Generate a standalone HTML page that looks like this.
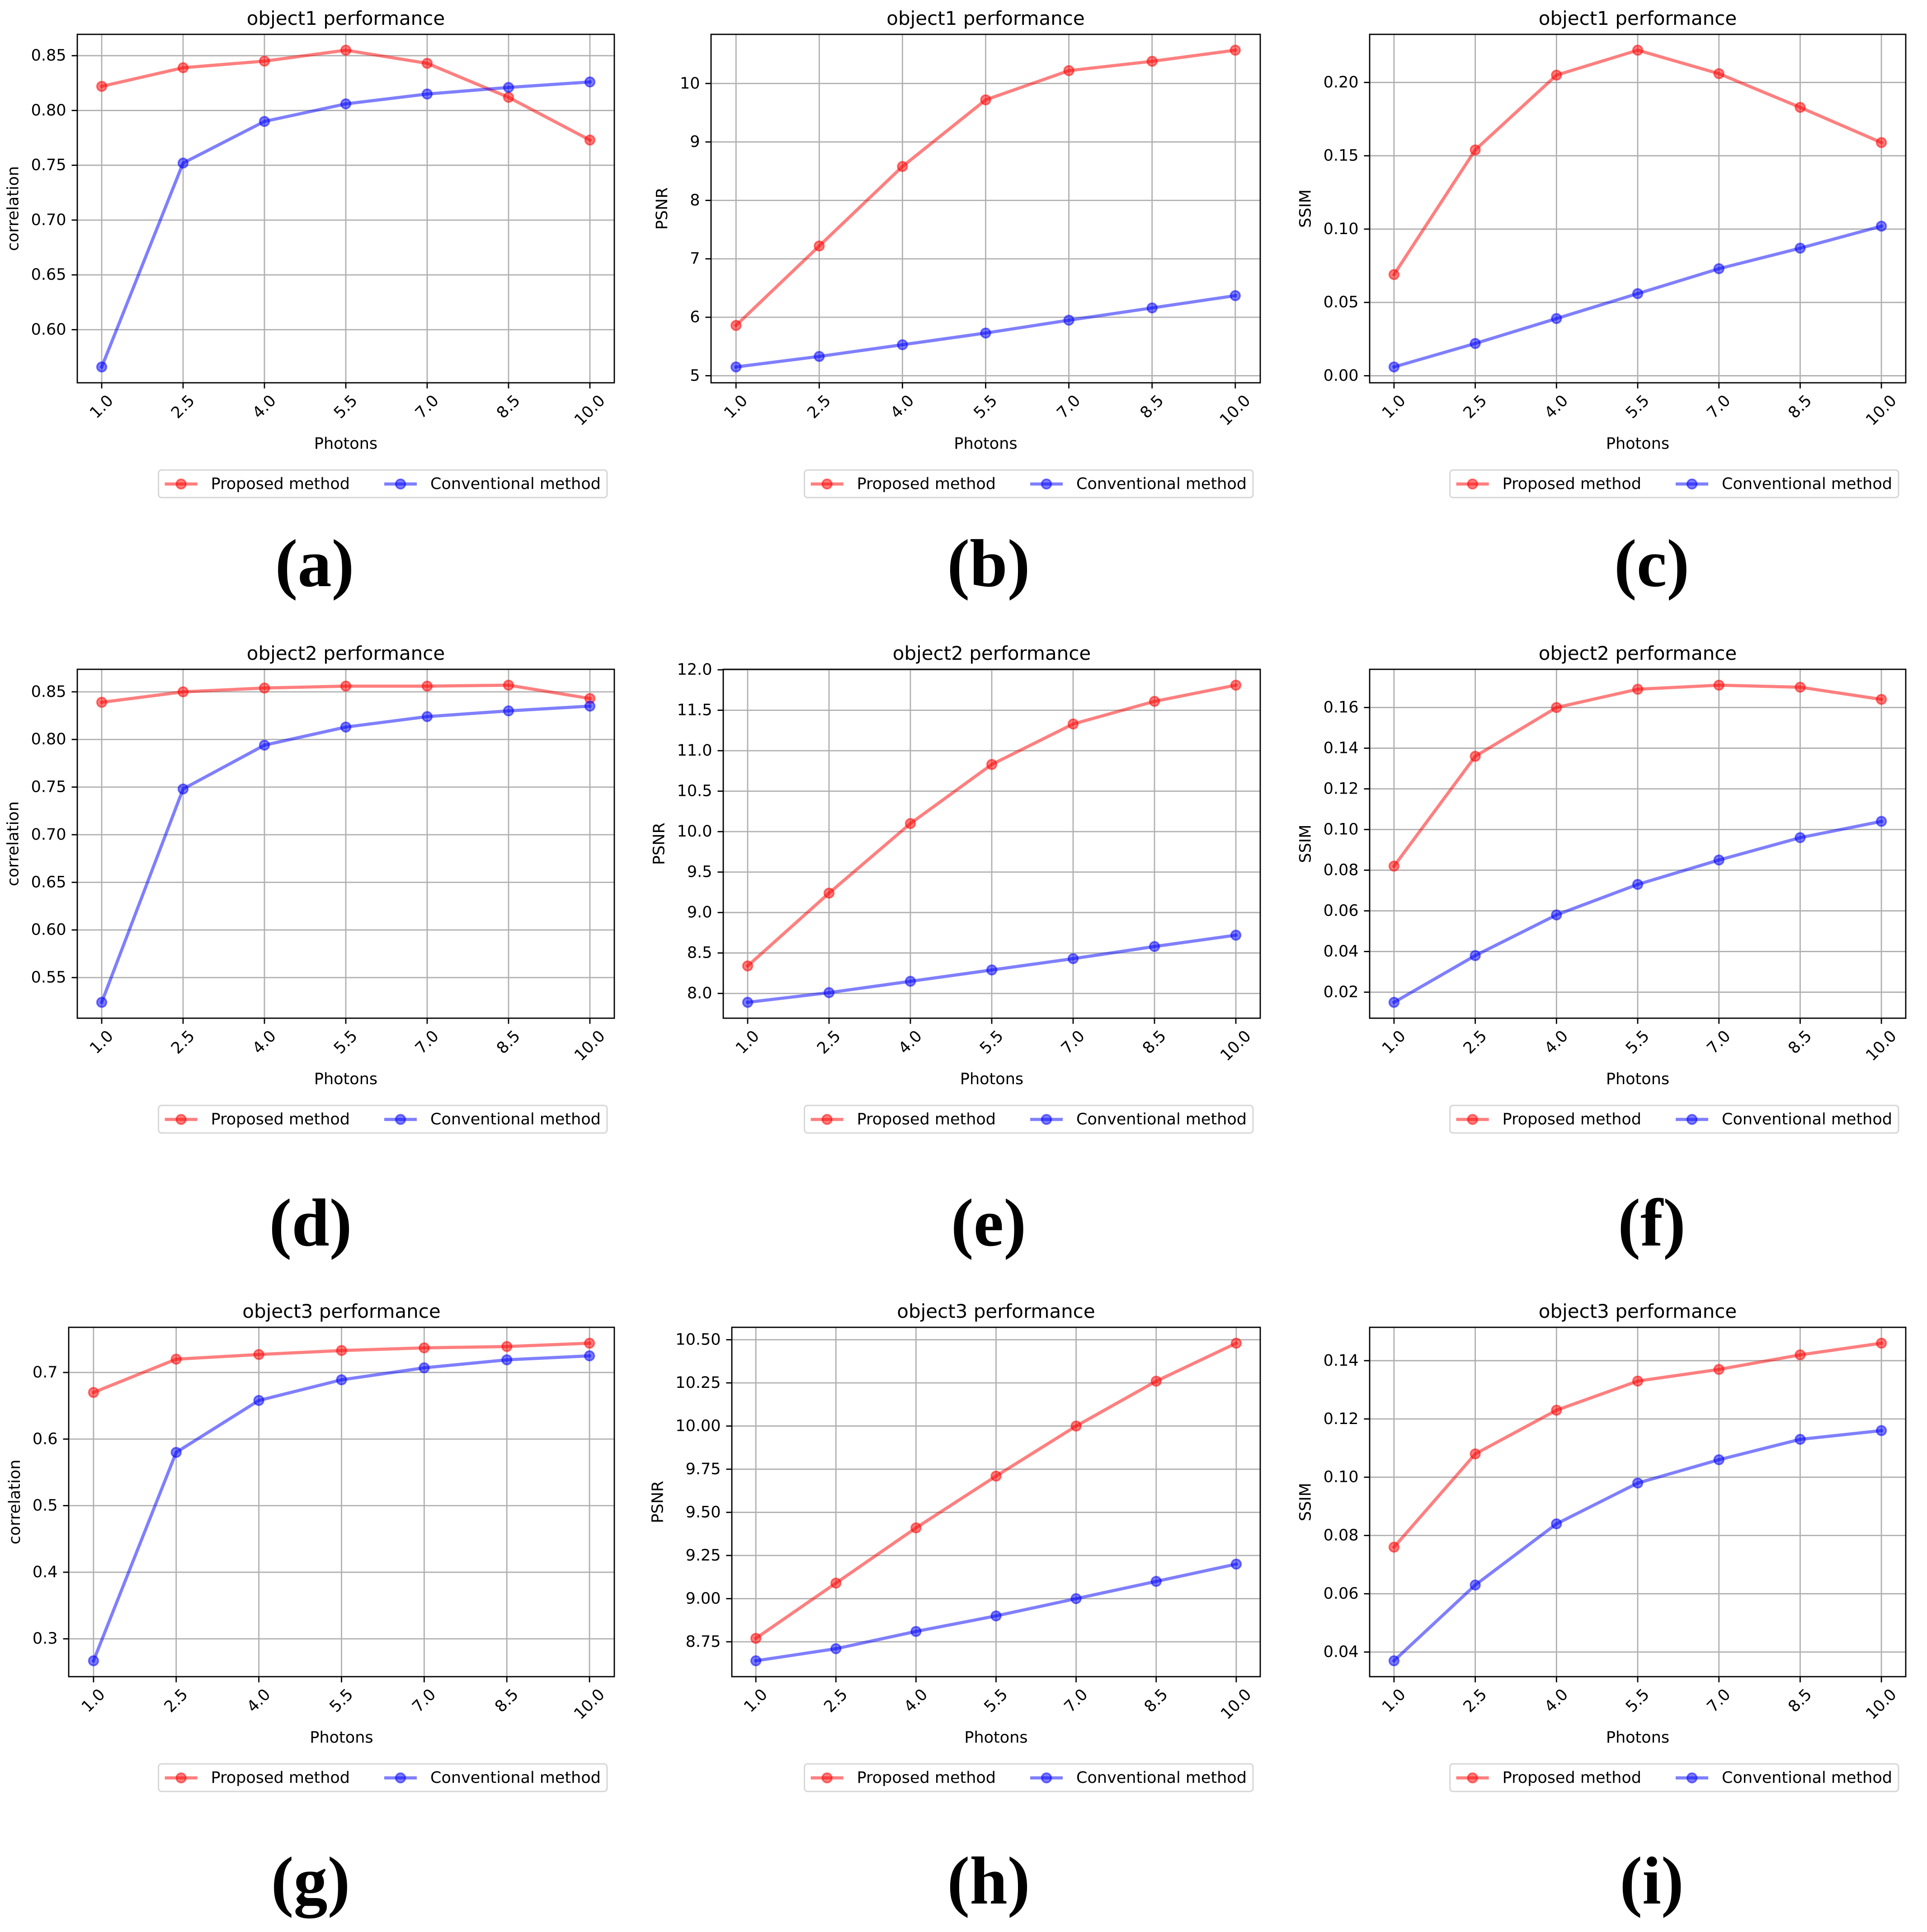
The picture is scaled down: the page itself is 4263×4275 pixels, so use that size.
<!DOCTYPE html>
<html>
<head>
<meta charset="utf-8">
<style>
  html, body { margin: 0; padding: 0; background: #ffffff; }
  svg { display: block; }
</style>
</head>
<body>
<svg id="fig" xmlns="http://www.w3.org/2000/svg" width="4263" height="4275" viewBox="0 0 4263 4275" font-family="'DejaVu Sans', 'Liberation Sans', sans-serif">
  <rect x="0" y="0" width="4263" height="4275" fill="#ffffff"/>
</svg>
<script>
// ---------- shared data ----------
const photons = [1.0, 2.5, 4.0, 5.5, 7.0, 8.5, 10.0];
const photonLabels = ["1.0", "2.5", "4.0", "5.5", "7.0", "8.5", "10.0"];

// panel (a) object1 correlation
const a_proposed = [0.822, 0.839, 0.845, 0.855, 0.843, 0.812, 0.773];
const a_conventional = [0.566, 0.752, 0.790, 0.806, 0.815, 0.821, 0.826];
const a_yticks = [0.60, 0.65, 0.70, 0.75, 0.80, 0.85];
const a_ylabels = ["0.60", "0.65", "0.70", "0.75", "0.80", "0.85"];
// panel (b) object1 PSNR
const b_proposed = [5.86, 7.22, 8.58, 9.72, 10.22, 10.38, 10.57];
const b_conventional = [5.15, 5.33, 5.53, 5.73, 5.95, 6.16, 6.37];
const b_yticks = [5, 6, 7, 8, 9, 10];
const b_ylabels = ["5", "6", "7", "8", "9", "10"];
// panel (c) object1 SSIM
const c_proposed = [0.069, 0.154, 0.205, 0.222, 0.206, 0.183, 0.159];
const c_conventional = [0.006, 0.022, 0.039, 0.056, 0.073, 0.087, 0.102];
const c_yticks = [0.00, 0.05, 0.10, 0.15, 0.20];
const c_ylabels = ["0.00", "0.05", "0.10", "0.15", "0.20"];
// panel (d) object2 correlation
const d_proposed = [0.839, 0.850, 0.854, 0.856, 0.856, 0.857, 0.843];
const d_conventional = [0.524, 0.748, 0.794, 0.813, 0.824, 0.830, 0.835];
const d_yticks = [0.55, 0.60, 0.65, 0.70, 0.75, 0.80, 0.85];
const d_ylabels = ["0.55", "0.60", "0.65", "0.70", "0.75", "0.80", "0.85"];
// panel (e) object2 PSNR
const e_proposed = [8.34, 9.24, 10.10, 10.83, 11.33, 11.61, 11.81];
const e_conventional = [7.89, 8.01, 8.15, 8.29, 8.43, 8.58, 8.72];
const e_yticks = [8.0, 8.5, 9.0, 9.5, 10.0, 10.5, 11.0, 11.5, 12.0];
const e_ylabels = ["8.0", "8.5", "9.0", "9.5", "10.0", "10.5", "11.0", "11.5", "12.0"];
// panel (f) object2 SSIM
const f_proposed = [0.082, 0.136, 0.160, 0.169, 0.171, 0.170, 0.164];
const f_conventional = [0.015, 0.038, 0.058, 0.073, 0.085, 0.096, 0.104];
const f_yticks = [0.02, 0.04, 0.06, 0.08, 0.10, 0.12, 0.14, 0.16];
const f_ylabels = ["0.02", "0.04", "0.06", "0.08", "0.10", "0.12", "0.14", "0.16"];
// panel (g) object3 correlation
const g_proposed = [0.670, 0.720, 0.727, 0.733, 0.737, 0.739, 0.744];
const g_conventional = [0.267, 0.580, 0.658, 0.689, 0.707, 0.719, 0.725];
const g_yticks = [0.3, 0.4, 0.5, 0.6, 0.7];
const g_ylabels = ["0.3", "0.4", "0.5", "0.6", "0.7"];
// panel (h) object3 PSNR
const h_proposed = [8.77, 9.09, 9.41, 9.71, 10.00, 10.26, 10.48];
const h_conventional = [8.64, 8.71, 8.81, 8.90, 9.00, 9.10, 9.20];
const h_yticks = [8.75, 9.00, 9.25, 9.50, 9.75, 10.00, 10.25, 10.50];
const h_ylabels = ["8.75", "9.00", "9.25", "9.50", "9.75", "10.00", "10.25", "10.50"];
// panel (i) object3 SSIM
const i_proposed = [0.076, 0.108, 0.123, 0.133, 0.137, 0.142, 0.146];
const i_conventional = [0.037, 0.063, 0.084, 0.098, 0.106, 0.113, 0.116];
const i_yticks = [0.04, 0.06, 0.08, 0.10, 0.12, 0.14];
const i_ylabels = ["0.04", "0.06", "0.08", "0.10", "0.12", "0.14"];

const svg = document.getElementById('fig');
const NS = 'http://www.w3.org/2000/svg';
function mk(tag, attrs, parent) {
  const e = document.createElementNS(NS, tag);
  for (const k in attrs) e.setAttribute(k, attrs[k]);
  (parent || svg).appendChild(e);
  return e;
}

const panels = [
  {id:'a', title:'object1 performance', ylabel:'correlation', P:a_proposed, C:a_conventional, yt:a_yticks, yl:a_ylabels, L:171, R:1359, T:76, B:847, lx:696, lb:1297},
  {id:'b', title:'object1 performance', ylabel:'PSNR', P:b_proposed, C:b_conventional, yt:b_yticks, yl:b_ylabels, L:1573, R:2788, T:76, B:847, lx:2187, lb:1297},
  {id:'c', title:'object1 performance', ylabel:'SSIM', P:c_proposed, C:c_conventional, yt:c_yticks, yl:c_ylabels, L:3030, R:4216, T:76, B:847, lx:3654, lb:1297},
  {id:'d', title:'object2 performance', ylabel:'correlation', P:d_proposed, C:d_conventional, yt:d_yticks, yl:d_ylabels, L:171, R:1359, T:1481, B:2253, lx:687, lb:2756},
  {id:'e', title:'object2 performance', ylabel:'PSNR', P:e_proposed, C:e_conventional, yt:e_yticks, yl:e_ylabels, L:1600, R:2788, T:1481, B:2253, lx:2187, lb:2756},
  {id:'f', title:'object2 performance', ylabel:'SSIM', P:f_proposed, C:f_conventional, yt:f_yticks, yl:f_ylabels, L:3030, R:4216, T:1481, B:2253, lx:3654, lb:2756},
  {id:'g', title:'object3 performance', ylabel:'correlation', P:g_proposed, C:g_conventional, yt:g_yticks, yl:g_ylabels, L:152, R:1359, T:2937, B:3710, lx:687, lb:4212},
  {id:'h', title:'object3 performance', ylabel:'PSNR', P:h_proposed, C:h_conventional, yt:h_yticks, yl:h_ylabels, L:1619, R:2788, T:2937, B:3710, lx:2187, lb:4212},
  {id:'i', title:'object3 performance', ylabel:'SSIM', P:i_proposed, C:i_conventional, yt:i_yticks, yl:i_ylabels, L:3030, R:4216, T:2937, B:3710, lx:3654, lb:4212}
];

const FS = 35;
panels.forEach(p => {
  const g = mk('g', {});
  
  

  const xmin = Math.min(...photons), xmax = Math.max(...photons);
  const xpad = (xmax - xmin) * 0.05;
  const all = p.P.concat(p.C);
  const ymin = Math.min(...all), ymax = Math.max(...all);
  const ypad = (ymax - ymin) * 0.05;
  const xs = v => p.L + (v - (xmin - xpad)) / ((xmax + xpad) - (xmin - xpad)) * (p.R - p.L);
  const ys = v => p.B - (v - (ymin - ypad)) / ((ymax + ypad) - (ymin - ypad)) * (p.B - p.T);

  photons.forEach((v, k) => {
    const ln = mk('line', {x1:xs(v), x2:xs(v), y1:p.T, y2:p.B, stroke:'#b0b0b0', 'stroke-width':2.8}, g);
    
    
  });
  p.yt.forEach(v => {
    const ln = mk('line', {x1:p.L, x2:p.R, y1:ys(v), y2:ys(v), stroke:'#b0b0b0', 'stroke-width':2.8}, g);
    
    
  });

  const series = [
    {vals:p.P, color:'255,0,0', name:'proposed'},
    {vals:p.C, color:'0,0,255', name:'conventional'}
  ];
  series.forEach(s => {
    const pts = s.vals.map((v, k) => xs(photons[k]) + ',' + ys(v)).join(' ');
    const pl = mk('polyline', {points:pts, fill:'none', stroke:'rgba(' + s.color + ',0.5)', 'stroke-width':7, 'stroke-linejoin':'round', 'stroke-linecap':'square'}, g);
    
    
    s.vals.forEach((v, k) => {
      const c = mk('circle', {cx:xs(photons[k]), cy:ys(v), r:10.5, fill:'rgba(' + s.color + ',0.5)', stroke:'rgba(' + s.color + ',0.5)', 'stroke-width':3.5}, g);
      
      
    });
  });

  const fr = mk('rect', {x:p.L, y:p.T, width:p.R - p.L, height:p.B - p.T, fill:'none', stroke:'#000', 'stroke-width':2.8}, g);
  
  

  photons.forEach((v, k) => {
    const x = xs(v);
    const tk = mk('line', {x1:x, x2:x, y1:p.B, y2:p.B + 12.5, stroke:'#000', 'stroke-width':2.8}, g);
    
    
    const lab = photonLabels[k];
    const w = FS * (lab.length === 4 ? 2.226 : 1.59);
    const h = (w + FS * 0.75) * 0.7071;
    const cy = p.B + 12.5 + 12 + h / 2;
    const t = mk('text', {x:x, y:cy, 'font-size':FS, 'text-anchor':'middle', 'dominant-baseline':'central', transform:'rotate(-45 ' + x + ' ' + cy + ')', fill:'#000'}, g);
    t.textContent = lab;
    
    
  });

  let maxW = 0;
  p.yt.forEach((v, k) => {
    const y = ys(v);
    const tk = mk('line', {x1:p.L - 12.5, x2:p.L, y1:y, y2:y, stroke:'#000', 'stroke-width':2.8}, g);
    
    
    const t = mk('text', {x:p.L - 12.5 - 12, y:y, 'font-size':FS, 'text-anchor':'end', 'dominant-baseline':'central', fill:'#000'}, g);
    t.textContent = p.yl[k];
    
    
    maxW = Math.max(maxW, t.getComputedTextLength());
  });

  const ylx = p.L - 12.5 - 12 - maxW - 14 - 14;
  const ycy = (p.T + p.B) / 2;
  const yl = mk('text', {x:ylx, y:ycy, 'font-size':FS, 'text-anchor':'middle', transform:'rotate(-90 ' + ylx + ' ' + ycy + ')', fill:'#000'}, g);
  yl.textContent = p.ylabel;
  
  

  const xl = mk('text', {x:(p.L + p.R) / 2, y:p.B + 135, 'font-size':FS, 'text-anchor':'middle', 'dominant-baseline':'central', fill:'#000'}, g);
  xl.textContent = 'Photons';
  
  

  const tt = mk('text', {x:(p.L + p.R) / 2, y:p.T - 21, 'font-size':42, 'text-anchor':'middle', fill:'#000'}, g);
  tt.textContent = p.title;
  
  

  const lg = mk('g', {}, g);
  
  
  const box = mk('rect', {x:0, y:0, width:10, height:61, rx:7, fill:'#fff', stroke:'#d6d6d6', 'stroke-width':3}, lg);
  
  
  const t1 = mk('text', {x:0, y:0, 'font-size':FS, 'dominant-baseline':'central', fill:'#000'}, lg);
  t1.textContent = 'Proposed method';
  
  
  const t2 = mk('text', {x:0, y:0, 'font-size':FS, 'dominant-baseline':'central', fill:'#000'}, lg);
  t2.textContent = 'Conventional method';
  
  
  const w1 = t1.getComputedTextLength(), w2 = t2.getComputedTextLength();
  const HL = 72, HP = 30, CS = 76, BP = 14;
  const W = BP + HL + HP + w1 + CS + HL + HP + w2 + BP;
  const lx0 = p.R - 16 - W, ly0 = p.B + 193, cy = ly0 + 31;
  box.setAttribute('x', lx0); box.setAttribute('y', ly0); box.setAttribute('width', W);
  const hx1 = lx0 + BP;
  const hx2 = hx1 + HL + HP + w1 + CS;
  [[hx1, '255,0,0', 'proposed'], [hx2, '0,0,255', 'conventional']].forEach(h => {
    const hl = mk('line', {x1:h[0], x2:h[0] + HL, y1:cy, y2:cy, stroke:'rgba(' + h[1] + ',0.5)', 'stroke-width':7}, lg);
    
    
    const hc = mk('circle', {cx:h[0] + HL / 2, cy:cy, r:10.5, fill:'rgba(' + h[1] + ',0.5)', stroke:'rgba(' + h[1] + ',0.5)', 'stroke-width':3.5}, lg);
    
    
  });
  t1.setAttribute('x', hx1 + HL + HP); t1.setAttribute('y', cy);
  t2.setAttribute('x', hx2 + HL + HP); t2.setAttribute('y', cy);

  const pl = mk('text', {x:p.lx, y:p.lb, 'font-size':150, 'font-weight':'bold', 'text-anchor':'middle', 'font-family':"'Liberation Serif', serif", fill:'#000'}, g);
  pl.textContent = '(' + p.id + ')';
  
  
});
</script>
</body>
</html>
